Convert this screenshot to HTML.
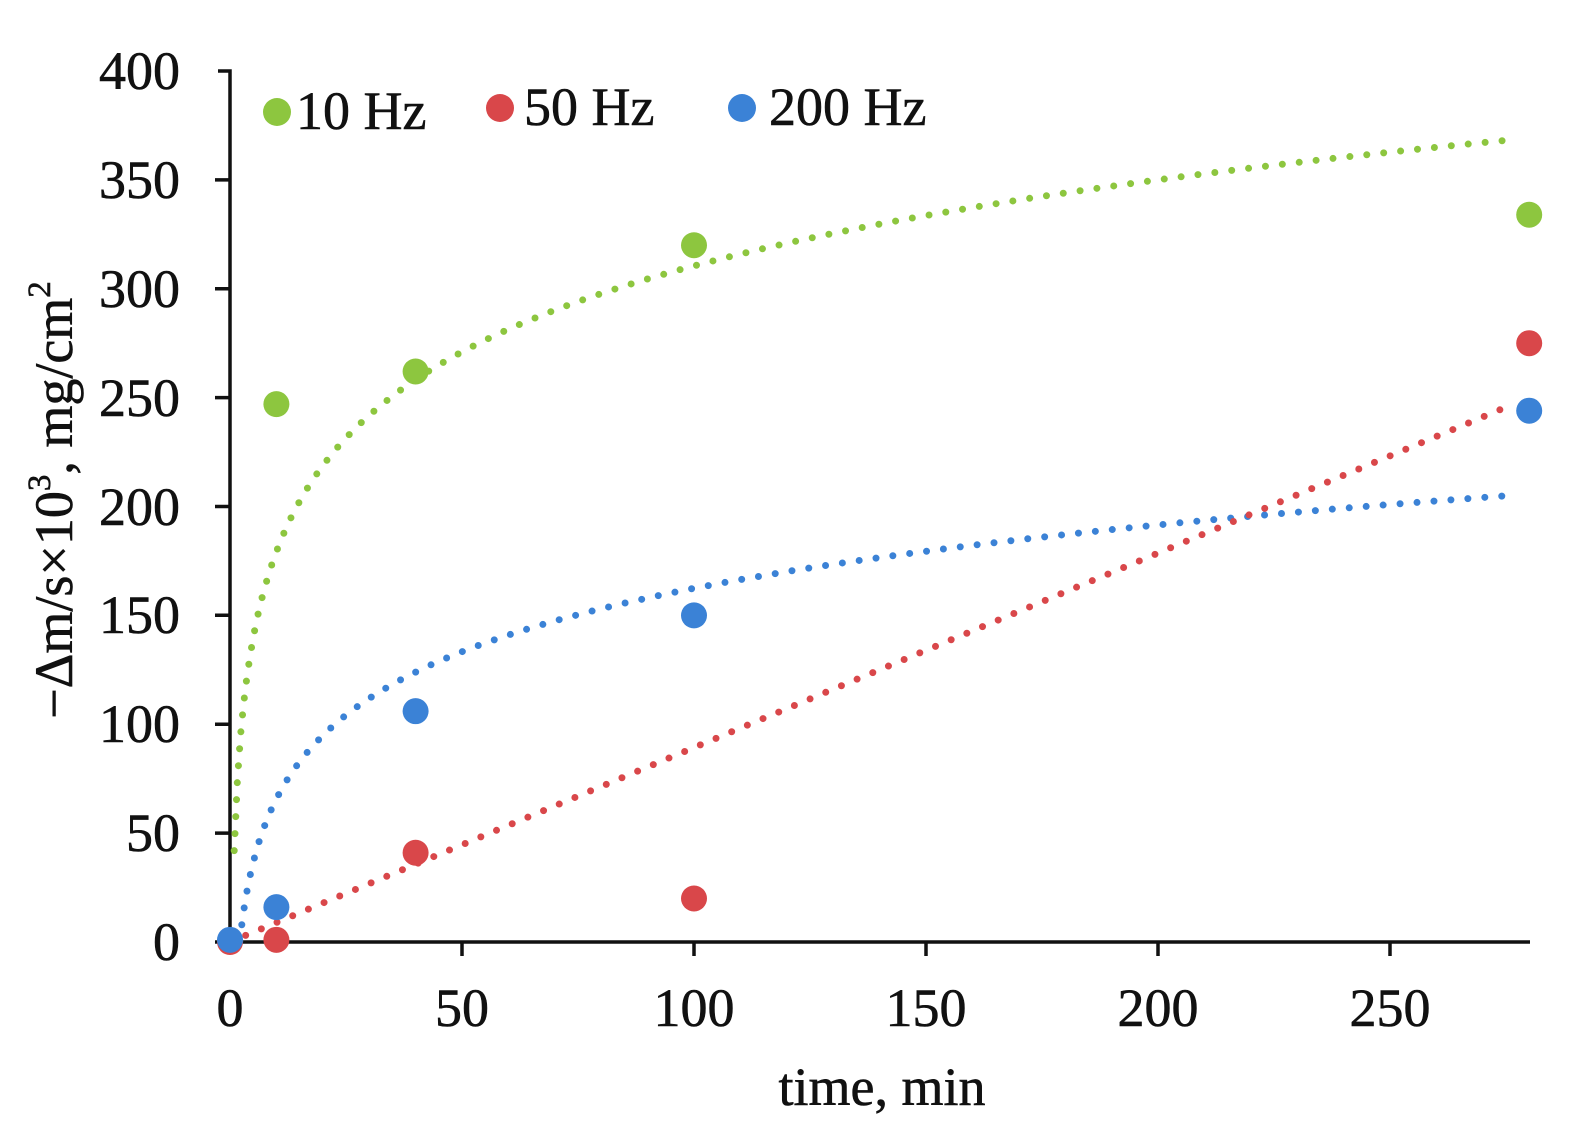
<!DOCTYPE html>
<html><head><meta charset="utf-8"><style>
html,body{margin:0;padding:0;background:#fff;}
svg{display:block;font-family:"Liberation Serif",serif;}
</style></head><body>
<svg id="s" width="1588" height="1135" viewBox="0 0 1588 1135" xmlns="http://www.w3.org/2000/svg">
<rect width="1588" height="1135" fill="#fff"/>
<g stroke="#111" stroke-width="3.5" fill="none">
<path d="M218 71 H230 V942 H1530"/>
<path d="M215 833.1H230M215 724.2H230M215 615.3H230M215 506.5H230M215 397.6H230M215 288.8H230M215 179.9H230M215 942H230"/>
<path d="M462 942V956M694 942V956M926 942V956M1158 942V956M1390 942V956"/>
</g>
<g font-size="54" fill="#111" text-anchor="end" stroke="#111" stroke-width="0.6">
<text x="180" y="89">400</text><text x="180" y="198">350</text><text x="180" y="307">300</text>
<text x="180" y="416">250</text><text x="180" y="525">200</text><text x="180" y="633">150</text>
<text x="180" y="742">100</text><text x="180" y="851">50</text><text x="180" y="960">0</text>
</g>
<g font-size="54" fill="#111" text-anchor="middle" stroke="#111" stroke-width="0.6">
<text x="230" y="1026">0</text><text x="462" y="1026">50</text><text x="694" y="1026">100</text>
<text x="926" y="1026">150</text><text x="1158" y="1026">200</text><text x="1390" y="1026">250</text>
<text x="882" y="1105">time, min</text>
<text transform="translate(72,500) rotate(-90)">−Δm/s×10<tspan font-size="33" dy="-22">3</tspan><tspan dy="22">, mg/cm</tspan><tspan font-size="33" dy="-22">2</tspan></text>
</g>
<g id="lines" fill="none" stroke-width="7" stroke-linecap="round" stroke-dasharray="0 17"></g>
<g id="pts"></g>
<g font-size="54" fill="#111" stroke="#111" stroke-width="0.6">
<circle cx="277" cy="112" r="14" fill="#8dc63f" stroke="none"/><text x="296" y="129">10 Hz</text>
<circle cx="500" cy="108" r="14" fill="#d9474a" stroke="none"/><text x="524" y="125">50 Hz</text>
<circle cx="742" cy="108" r="14" fill="#3b82d6" stroke="none"/><text x="769" y="125">200 Hz</text>
</g>
</svg>
<script>
var X=function(x){return 230+4.64*x},Y=function(v){return 942-2.1775*v};
function path(f,a,b){var d="";for(var i=0;i<=400;i++){var x=a+(b-a)*i/400;d+=(i?"L":"M")+X(x).toFixed(1)+" "+Y(f(x)).toFixed(1);}return d;}
var L=document.getElementById("lines"),ns="http://www.w3.org/2000/svg";
function add(d,c){var p=document.createElementNS(ns,"path");p.setAttribute("d",d);p.setAttribute("stroke",c);L.appendChild(p);}
add(path(function(x){return 57*Math.log(x)+48},0.9,275),"#8dc63f");
add(path(function(x){return 42*Math.log(x)-31},2.1,275),"#3b82d6");
add(path(function(x){return 0.893*x},0,275),"#d9474a");
var P=document.getElementById("pts");
var data=[["#8dc63f",[[10,247],[40,262],[100,320],[280,334]]],["#d9474a",[[0,0],[10,1],[40,41],[100,20],[280,275]]],["#3b82d6",[[0,1],[10,16],[40,106],[100,150],[280,244]]]];
data.forEach(function(s){s[1].forEach(function(p){var c=document.createElementNS(ns,"circle");c.setAttribute("cx",X(p[0]));c.setAttribute("cy",Y(p[1]));c.setAttribute("r",13);c.setAttribute("fill",s[0]);P.appendChild(c);});});
</script>
</body></html>
